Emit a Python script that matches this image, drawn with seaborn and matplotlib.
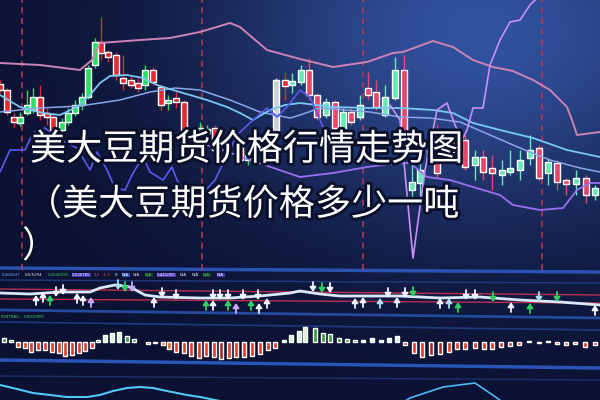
import numpy as np
import matplotlib
matplotlib.use("Agg")
import matplotlib.pyplot as plt
import matplotlib.patheffects as pe
import seaborn as sns

# ---------------- data ----------------
# candles: session position, open / close / high / low (price units)
cx = [0, 7, 14, 20, 27, 33, 40, 47, 53, 62, 68, 75, 82, 88, 95, 101, 108, 116, 123, 131,
      138, 145, 153, 161, 168, 176, 184, 200, 207, 215, 240, 248, 276, 285, 292, 301, 309, 317, 326, 335,
      343, 351, 360, 368, 376, 385, 395, 404, 412, 420, 430, 437, 447, 456, 465, 475, 483, 492, 502, 510,
      520, 530, 539, 548, 557, 566, 576, 586, 595]
c_open = [186, 180, 153, 147, 157, 160, 173, 157, 153, 140, 148, 157, 165, 173, 205, 228, 218, 215, 192, 190,
          187, 185, 200, 183, 167, 172, 168, 137, 137, 142, 125, 110, 140, 190, 185, 188, 200, 175, 155, 168,
          142, 158, 153, 182, 178, 155, 172, 200, 80, 87, 110, 140, 113, 130, 130, 105, 113, 102, 95, 98,
          100, 112, 122, 97, 107, 90, 86, 92, 75]
c_close = [180, 158, 148, 153, 165, 173, 155, 153, 140, 148, 157, 165, 173, 202, 228, 217, 213, 195, 187, 185,
           182, 200, 188, 165, 170, 168, 138, 142, 141, 120, 110, 118, 190, 184, 189, 200, 175, 153, 168, 142,
           158, 148, 165, 175, 163, 173, 200, 113, 88, 100, 120, 97, 122, 118, 103, 113, 98, 97, 100, 102,
           110, 120, 92, 108, 88, 86, 92, 75, 82]
c_high = [190, 182, 157, 158, 180, 182, 185, 162, 157, 152, 162, 170, 177, 205, 232, 253, 220, 218, 215, 194,
          192, 205, 203, 185, 175, 178, 170, 148, 145, 145, 130, 122, 192, 198, 197, 205, 212, 177, 172, 170,
          162, 162, 175, 198, 190, 185, 213, 215, 107, 107, 130, 145, 130, 140, 135, 120, 120, 115, 110, 120,
          120, 135, 125, 112, 110, 92, 100, 95, 85]
c_low = [177, 155, 143, 144, 155, 157, 150, 145, 138, 136, 145, 154, 160, 171, 202, 210, 208, 190, 180, 182,
         178, 180, 185, 160, 160, 162, 135, 133, 134, 115, 105, 105, 138, 170, 177, 185, 170, 150, 152, 140,
         140, 145, 150, 170, 160, 153, 170, 110, 70, 70, 105, 92, 108, 110, 100, 90, 90, 80, 85, 95,
         90, 105, 90, 85, 80, 75, 75, 67, 70]
grey_x = [276]
marker_days = [22, 202, 363, 542]

# overlay lines (price units)
pink_x = [0, 40, 80, 92, 100, 113, 140, 170, 200, 230, 240, 267, 300, 333, 367, 393, 403, 433, 453, 473,
          493, 513, 533, 550, 567, 572, 577, 600]
pink_y = [207, 205, 200, 210, 227, 228, 230, 232, 238, 247, 243, 220, 211, 203, 208, 217, 218, 229, 223, 210,
          203, 199, 190, 180, 163, 150, 135, 138]
cyan_x = [0, 20, 43, 60, 77, 90, 100, 110, 127, 143, 157, 173, 190, 207, 227, 240, 253, 270, 285, 300,
          333, 367, 400, 433, 453, 473, 500, 533, 567, 600]
cyan_y = [175, 163, 157, 155, 163, 175, 187, 194, 195, 192, 185, 180, 175, 170, 163, 157, 150, 160, 165, 167,
          163, 162, 162, 160, 157, 147, 140, 132, 120, 113]
pale_x = [0, 40, 80, 120, 150, 175, 200, 230, 260, 290, 300, 320, 345, 370, 400, 430, 460, 490, 520, 550, 580, 600]
pale_y = [158, 162, 164, 170, 178, 182, 180, 170, 158, 152, 155, 162, 160, 158, 153, 152, 148, 135, 122, 110, 102, 98]
blue_x = [0, 10, 25, 33, 45, 60, 77, 90, 97, 107, 115, 125, 133, 143, 150, 163, 172, 177, 187, 197,
          215, 237, 253, 267, 277, 287, 300, 310, 323, 335]
blue_y = [98, 120, 120, 137, 142, 130, 122, 100, 118, 100, 82, 80, 97, 113, 98, 90, 103, 90, 73, 70,
          90, 135, 150, 162, 153, 163, 180, 173, 143, 120]
lav_x = [150, 183, 217, 250, 300, 333, 367, 397, 410, 427, 450, 473, 500, 513, 540, 563, 577, 590, 600]
lav_y = [138, 132, 122, 110, 93, 97, 103, 107, 107, 93, 90, 83, 75, 65, 60, 62, 80, 87, 87]
vio_x = [390, 400, 413, 425, 437, 447, 455, 462, 467, 473, 483, 490, 500, 510, 520, 530, 545]
vio_y = [165, 150, 12, 100, 160, 167, 145, 130, 140, 162, 162, 205, 230, 248, 250, 265, 280]

# indicator strip
lab_text = ["0.260647", "0.5/5294", "0.2548291", "0.530785", "1.2", "-1.2", "0", "N/A", "N/A", "N/A",
            "0.441055", "N/A", "N/A", "N/A", "N/A"]
lab_color = ["#7fb0ff", "#e8e8f0", "#40d060", "#ffffff", "#ff5060", "#ff5060", "#ffffff", "#ffffff",
             "#e8e8f0", "#40d060", "#ffffff", "#e8e8f0", "#e8e8f0", "#40d060", "#ffffff"]
lab_box = [None, None, None, "#4038b8", None, None, None, "#2c50b0", None, "#1c3a30", "#5038b8",
           None, None, "#1c3a30", "#4038b0"]

ind_x = [0, 30, 60, 90, 100, 115, 130, 145, 160, 200, 230, 260, 290, 300, 320, 340, 360, 400, 440, 480, 520, 560, 600]
ind_v = [21, 20, 22, 22, 26, 29, 27, 19, 17, 16, 16, 18, 21, 23, 20, 18, 18, 18, 16, 17, 14, 12, 9]
ref_x = [0, 600]
ref_hi = [25, 19]
ref_lo = [15, 11]
arr_x = [36, 43, 50, 56, 63, 77, 83, 91, 118, 125, 132, 154, 162, 176, 206, 213, 213, 220, 228, 228,
         236, 243, 251, 258, 259, 267, 313, 322, 330, 355, 363, 380, 388, 397, 405, 413, 440, 449, 458, 466,
         475, 493, 511, 530, 539, 557, 595]
arr_v = [14, 17, 14, 22, 24, 16, 14, 12, 29, 27, 27, 12, 21, 19, 9, 19, 9, 19, 19, 9,
         6, 19, 9, 19, 6, 11, 27, 26, 26, 11, 12, 11, 21, 12, 21, 22, 11, 11, 7, 19,
         19, 17, 7, 6, 17, 17, 4]
arr_dir = "uuudduuudd" "duddududdu" "ududuudddu" "uududduuud" "dduuddu"
arr_col = "wwgwwwwlcg" "lwwwgwwwwg" "lwgwwwwgww" "wcwwwgwcgw" "wgwgcgw"

# histogram
hist_x = [4, 11, 18, 25, 31, 38, 45, 52, 59, 65, 72, 79, 85, 92, 98, 105, 112, 119, 127, 134,
          148, 155, 163, 169, 176, 184, 191, 199, 206, 214, 221, 229, 236, 244, 252, 260, 268, 275, 284, 291,
          299, 305, 315, 323, 330, 339, 347, 355, 363, 372, 381, 389, 397, 405, 414, 422, 431, 440, 449, 457,
          465, 475, 484, 492, 501, 510, 519, 529, 539, 548, 557, 566, 575, 585, 595]
hist_v = [4, 2, -5, -6, -10, -8, -8, -10, -11, -14, -13, -11, -9, -6, 2, 7, 9, 10, 6, 3,
          -2, -1, -3, -7, -10, -11, -14, -16, -14, -15, -17, -16, -15, -15, -14, -12, -8, -6, 2, 7,
          11, 15, 14, 9, 8, 4, 3, 2, 2, 4, 2, 4, 6, -3, -11, -15, -13, -12, -10, -7,
          -7, -6, -7, -7, -5, -4, -3, 1, -1, 1, -2, -3, -2, -5, -3]
hist_tone = "ggrrrrrrrrrrrrgwwwggoooorrrrrrdrrrrrrrwwwwggggggwwwwwrrrddrrrrrrrrrwrwrorrr"

osc1_x = [0, 17, 33, 50, 67, 87, 100, 113, 127, 140, 153, 167, 187, 200, 215, 230]
osc1_v = [15, 11, 7, 5, 3, 3, 5, 9, 12, 13, 12, 9, 5, 3, 0, -3]
osc2_x = [400, 410, 443, 475, 497, 505]
osc2_v = [-4, 2, 13, 17, 2, -4]

title_lines = ["美大豆期货价格行情走势图", "（美大豆期货价格多少一吨", "）"]

# ---------------- style ----------------
sns.set_theme(style="dark", rc={"axes.facecolor": "none", "figure.facecolor": "#0b1132"})
plt.rcParams["font.family"] = ["Noto Sans CJK SC", "DejaVu Sans"]

fig = plt.figure(figsize=(6, 4), dpi=100)

# background glow of the trading screen
bg = fig.add_axes([0, 0, 1, 1], zorder=-5)
yy, xx = np.mgrid[0:400, 0:600]
glow = np.exp(-(((xx - 480) / 260.0) ** 2 + ((yy - 30) / 190.0) ** 2))
base = np.array([11, 17, 50]) / 255.0
hi = np.array([50, 82, 158]) / 255.0
img = base + glow[..., None] * (hi - base)
bg.imshow(img, extent=(0, 600, 400, 0), aspect="auto")
bg.set_xlim(0, 600)
bg.set_ylim(400, 0)
bg.set_axis_off()
for (y0, y1, c, lw) in [(268, 272, "#2a52b0", 2.5), (280, 283, "#1e3a80", 1.0), (310, 318, "#244a9c", 2.0),
                        (322, 330, "#1e3a80", 1.2), (360, 368, "#2a55b8", 2.5), (376, 380, "#1a3070", 1.0)]:
    bg.plot([0, 600], [y0, y1], color=c, lw=lw)


def strip(top, bottom):
    a = fig.add_axes([0, 1 - bottom / 400, 1, (bottom - top) / 400])
    a.set_facecolor("none")
    a.set_xlim(0, 600)
    a.set_axis_off()
    return a


# ---------------- main candle panel ----------------
ax = strip(0, 270)
ax.set_ylim(0, 270)
for d in marker_days:
    ax.axvline(d, color="#b8385a", lw=1.1, ls=(0, (4, 3)), zorder=1)

cx_a = np.array(cx)
o = np.array(c_open)
c = np.array(c_close)
up = c >= o
right = cx_a > 290
col = np.where(up, np.where(right, "#68e8b8", "#28e060"), np.where(right, "#e8456a", "#e8282c"))
col = np.where(np.isin(cx_a, grey_x), "#d0d0d8", col)
ax.vlines(cx_a, c_low, c_high, colors=col, lw=1, zorder=2)
ax.bar(cx_a, np.abs(c - o), bottom=np.minimum(o, c), width=5.5, color=col, zorder=3)

sns.lineplot(x=pink_x, y=pink_y, ax=ax, color="#cc84b8", lw=1.4, estimator=None, sort=False, zorder=4)
sns.lineplot(x=pale_x, y=pale_y, ax=ax, color="#8aa8e8", lw=1.1, estimator=None, sort=False, zorder=4)
sns.lineplot(x=cyan_x, y=cyan_y, ax=ax, color="#78c8f0", lw=1.3, estimator=None, sort=False, zorder=4)
sns.lineplot(x=blue_x, y=blue_y, ax=ax, color="#5a5af0", lw=1.2, estimator=None, sort=False, zorder=4)
sns.lineplot(x=lav_x, y=lav_y, ax=ax, color="#9a70f0", lw=1.3, estimator=None, sort=False, zorder=4)
sns.lineplot(x=vio_x, y=vio_y, ax=ax, color="#c890f8", lw=1.2, estimator=None, sort=False, zorder=4)
ax.set_xlim(0, 600)
ax.set_ylim(0, 270)
ax.set_axis_off()

# ---------------- value labels ----------------
lab_pos = [2, 25, 48, 72, 94, 103, 115, 122, 133, 145, 157, 180, 192, 203, 217]
for t, xp, tc, bc in zip(lab_text, lab_pos, lab_color, lab_box):
    kw = {}
    if bc:
        kw["bbox"] = dict(boxstyle="square,pad=0.1", fc=bc, ec="none")
    fig.text(xp / 600, 1 - 275 / 400, t, fontsize=2.9, color=tc, va="center", ha="left",
             family="DejaVu Sans", **kw)
fig.text(1 / 600, 1 - 317 / 400, "FONTRALI", fontsize=2.9, color="#40d060", va="center", family="DejaVu Sans")
fig.text(24 / 600, 1 - 317 / 400, "0.0010987", fontsize=2.9, color="#40d060", va="center", family="DejaVu Sans")

# ---------------- arrow indicator ----------------
axa = strip(280, 314)
axa.set_ylim(0, 34)
sns.lineplot(x=ref_x, y=ref_hi, ax=axa, color="#b83050", lw=1.0, estimator=None)
sns.lineplot(x=ref_x, y=ref_lo, ax=axa, color="#b83050", lw=1.0, estimator=None)
sns.lineplot(x=ind_x, y=ind_v, ax=axa, color="#d8e8f8", lw=2.0, estimator=None, sort=False)
arrow_cols = {"w": "#f4f4ff", "g": "#30d060", "l": "#c8a8ff", "c": "#a8e0f0"}
for xp, v, d, cc in zip(arr_x, arr_v, arr_dir, arr_col):
    s = 1 if d == "u" else -1
    axa.annotate("", xy=(xp, v + 5 * s), xytext=(xp, v - 5 * s),
                 arrowprops=dict(arrowstyle="-|>,head_length=0.45,head_width=0.3", color=arrow_cols[cc],
                                 lw=1.3, mutation_scale=6, shrinkA=0, shrinkB=0))
axa.set_xlim(0, 600)
axa.set_ylim(0, 34)
axa.set_axis_off()

# ---------------- histogram ----------------
axh = strip(322, 368)
tone_cols = {"g": "#2f9a3c", "w": "#d8f0d8", "r": "#e03a28", "o": "#f05a2a", "d": "#a82828"}
axh.bar(hist_x, hist_v, width=4.5, color=[tone_cols[t] for t in hist_tone])
axh.set_xlim(0, 600)
axh.set_ylim(-26, 20)
axh.set_axis_off()

# ---------------- lower oscillator ----------------
axo = strip(372, 400)
sns.lineplot(x=osc1_x, y=osc1_v, ax=axo, color="#50c8f0", lw=1.5, estimator=None, sort=False)
sns.lineplot(x=osc2_x, y=osc2_v, ax=axo, color="#50b8f0", lw=1.2, estimator=None, sort=False)
axo.set_xlim(0, 600)
axo.set_ylim(0, 28)
axo.set_axis_off()

# ---------------- title overlay ----------------
stroke = [pe.withStroke(linewidth=4, foreground="#0a0f2a")]
for txt, xp, yp in zip(title_lines, [30, 26, 22], [150, 205, 247]):
    fig.text(xp / 600, 1 - yp / 400, txt, fontsize=26, color="white", weight="medium",
             ha="left", va="center", path_effects=stroke, zorder=10)

fig.savefig("out.png", dpi=100, facecolor=fig.get_facecolor())
